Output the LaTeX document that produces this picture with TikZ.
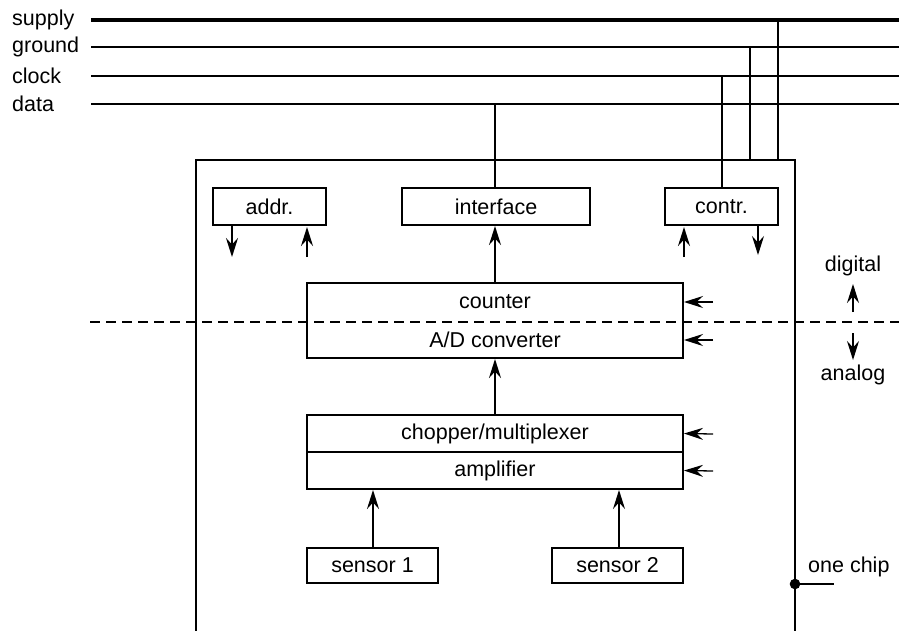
\documentclass[tikz,border=0pt]{standalone}
\usepackage{fontspec}
\setmainfont{Liberation Sans}
\usetikzlibrary{arrows.meta}
\begin{document}
\begin{tikzpicture}[x=1pt,y=-1pt,
  every node/.style={font=\fontsize{21.5}{25}\selectfont, inner sep=0pt},
  blk/.style={draw, line width=2pt, rectangle, anchor=center},
  bus/.style={line width=1.5pt},
  lbl/.style={anchor=west},
  tipst/.style={-{Stealth[length=19pt,width=12pt,inset=6.5pt]}},
  arr/.style={line width=2pt, tipst},
  arrthin/.style={line width=1.3pt, tipst}
]
\useasboundingbox (0,0) rectangle (899,630);
\clip (0,0) rectangle (899,630);
% bus labels
\node[lbl] (lsup) at (12,20) {supply};
\node[lbl] (lgnd) at (12,47) {ground};
\node[lbl] (lclk) at (12,76) {clock};
\node[lbl] (ldat) at (12,104) {data};
\coordinate (s0) at (91,20);  \coordinate (s1) at (899,20);
\coordinate (g0) at (91,47);  \coordinate (g1) at (899,47);
\coordinate (c0) at (91,76);  \coordinate (c1) at (899,76);
\coordinate (d0) at (91,104); \coordinate (d1) at (899,104);
\draw[line width=3.2pt] (s0) -- (s1);
\draw[bus] (g0) -- (g1);
\draw[bus] (c0) -- (c1);
\draw[bus] (d0) -- (d1);
% chip
\draw[line width=2pt] (196,660) -- (196,160) -- (795,160) -- (795,660);
% blocks
\node[blk, minimum width=113pt, minimum height=37pt] (addr) at (269.5,206.5) {addr.};
\node[blk, minimum width=188pt, minimum height=37pt] (intf) at (496,206.5) {interface};
\node[blk, minimum width=113pt, minimum height=37pt] (contr) at (721.5,206.5) {contr.};
\node[blk, minimum width=376pt, minimum height=75pt] (cnt) at (495,320.5) {};
\node (cntt) at (495,302) {counter};
\node (adt) at (495,340) {A/D converter};
\node[blk, minimum width=376pt, minimum height=37pt] (chop) at (495,433.5) {chopper/multiplexer};
\node[blk, minimum width=376pt, minimum height=37pt] (amp) at (495,470.5) {amplifier};
\node[blk, minimum width=131pt, minimum height=35pt] (sen1) at (372.5,565.5) {sensor 1};
\node[blk, minimum width=131pt, minimum height=35pt] (sen2) at (617.5,565.5) {sensor 2};
% bus drops
\draw[line width=1.8pt] (778,20) -- (778,160);
\draw[line width=1.8pt] (750,47) -- (750,160);
\draw[line width=1.8pt] (722,76) -- (contr.north -| 722,0);
\draw[line width=1.8pt] (495,104) -- (intf.north -| 495,0);
% dashed divider
\draw[line width=2.2pt, dash pattern=on 10pt off 6pt] (90,322) -- (899,322);
% arrows
\draw[arr] (addr.south -| 232,0) -- (232,257);
\draw[arr] (307,257) -- (307,227);
\draw[arr] (684,257) -- (684,227);
\draw[arrthin] (contr.south -| 758,0) -- (758,255);
\draw[arr] (cnt.north -| 495,0) -- (intf.south -| 495,0);
\draw[arr] (chop.north -| 495,0) -- (cnt.south -| 495,0);
\draw[arr] (sen1.north -| 373,0) -- (amp.south -| 373,0);
\draw[arrthin] (sen2.north -| 619,0) -- (amp.south -| 619,0);
\draw[arrthin] (713,302) -- (cnt.east |- 0,302);
\draw[arrthin] (713,340) -- (cnt.east |- 0,340);
\draw[arrthin] (713,434) -- (chop.east);
\draw[arrthin] (713,471) -- (amp.east);
% digital / analog
\node (dig) at (853,266) {digital};
\node (ana) at (853,375) {analog};
\draw[arrthin] (853,312) -- (853,284);
\draw[arrthin] (853,333) -- (853,360);
% one chip
\node[lbl] (oc) at (808,567) {one chip};
\fill (795,584) circle (5.3pt);
\draw[line width=2pt] (795,584) -- (834,584);
\end{tikzpicture}
\end{document}
